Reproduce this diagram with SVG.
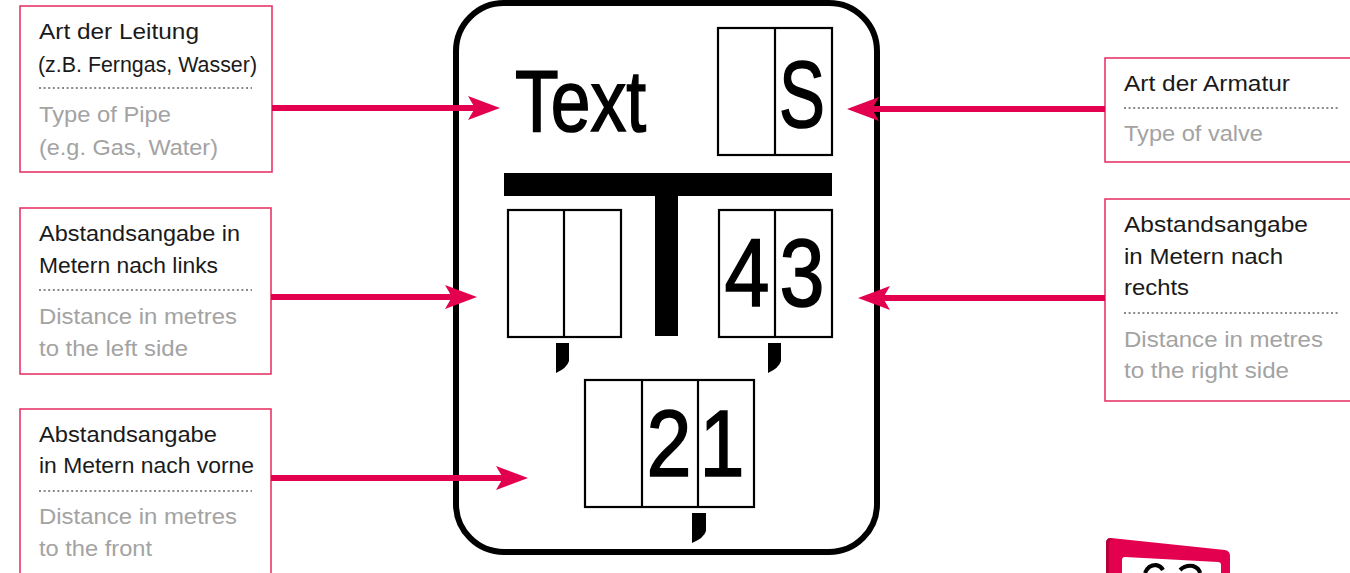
<svg xmlns="http://www.w3.org/2000/svg" width="1350" height="573" viewBox="0 0 1350 573">
<defs>
<style>
.box{fill:#fff;stroke:#e6386a;stroke-width:1.6}
.de{font-family:"Liberation Sans",Arial,sans-serif;font-size:21.5px;fill:#1a1a1a}
.en{font-family:"Liberation Sans",Arial,sans-serif;font-size:21.5px;fill:#a3a3a3}
.dot{stroke:#8a8a8a;stroke-width:2;stroke-dasharray:2 2.6}
.conn{stroke:#e2004f;stroke-width:6;fill:none;marker-end:url(#ah)}
.cell{fill:#fff;stroke:#000;stroke-width:2.2}
.big{font-family:"Liberation Sans Narrow","Liberation Sans",Arial,sans-serif;fill:#000;stroke:#000;stroke-width:1.6}
</style>
<marker id="ah" markerUnits="userSpaceOnUse" viewBox="0 0 32 24" markerWidth="32" markerHeight="24" refX="12" refY="12" orient="auto">
<path d="M0,0 L32,12 L0,24 L7,12 Z" fill="#e2004f"/>
</marker>
</defs>
<rect width="1350" height="573" fill="#fff"/>

<g id="sign">
<rect x="456" y="3" width="421" height="549" rx="48" ry="48" fill="#fff" stroke="#000" stroke-width="6"/>
<text class="big" x="515" y="131" font-size="88" textLength="131" lengthAdjust="spacingAndGlyphs">Text</text>
<rect class="cell" x="718" y="28" width="114" height="127"/>
<line x1="775" y1="28" x2="775" y2="155" stroke="#000" stroke-width="2.2"/>
<text class="big" x="802" y="127" font-size="95" text-anchor="middle" textLength="46" lengthAdjust="spacingAndGlyphs">S</text>
<rect x="504" y="173" width="328" height="23" fill="#000"/>
<rect x="655" y="195" width="23" height="141" fill="#000"/>
<rect class="cell" x="508" y="210" width="113" height="127"/>
<line x1="564" y1="210" x2="564" y2="337" stroke="#000" stroke-width="2.2"/>
<rect class="cell" x="719" y="210" width="113" height="127"/>
<line x1="775" y1="210" x2="775" y2="337" stroke="#000" stroke-width="2.2"/>
<text class="big" x="747" y="306" font-size="96" text-anchor="middle" textLength="45" lengthAdjust="spacingAndGlyphs">4</text>
<text class="big" x="802" y="306" font-size="96" text-anchor="middle" textLength="45" lengthAdjust="spacingAndGlyphs">3</text>
<path d="M556,343 L569,343 L569,361 Q567,368 556,373 Z" fill="#000"/>
<path d="M768,343 L781,343 L781,361 Q779,368 768,373 Z" fill="#000"/>
<rect class="cell" x="585" y="380" width="169" height="127"/>
<line x1="642" y1="380" x2="642" y2="507" stroke="#000" stroke-width="2.2"/>
<line x1="698" y1="380" x2="698" y2="507" stroke="#000" stroke-width="2.2"/>
<text class="big" x="669" y="476" font-size="95" text-anchor="middle" textLength="45" lengthAdjust="spacingAndGlyphs">2</text>
<text class="big" x="722" y="476" font-size="95" text-anchor="middle" textLength="45" lengthAdjust="spacingAndGlyphs">1</text>
<path d="M692,513 L706,513 L706,531 Q704,538 692,543 Z" fill="#000"/>
</g>

<g id="box-pipe">
<rect class="box" x="20" y="6" width="252" height="166"/>
<text class="de" x="39" y="39" textLength="160" lengthAdjust="spacingAndGlyphs">Art der Leitung</text>
<text class="de" x="38" y="72" textLength="219" lengthAdjust="spacingAndGlyphs">(z.B. Ferngas, Wasser)</text>
<line class="dot" x1="39" y1="88" x2="252" y2="88"/>
<text class="en" x="39" y="122" textLength="132" lengthAdjust="spacingAndGlyphs">Type of Pipe</text>
<text class="en" x="39" y="155" textLength="179" lengthAdjust="spacingAndGlyphs">(e.g. Gas, Water)</text>
</g>

<g id="box-left">
<rect class="box" x="20" y="208" width="251" height="166"/>
<text class="de" x="39" y="241" textLength="201" lengthAdjust="spacingAndGlyphs">Abstandsangabe in</text>
<text class="de" x="39" y="273" textLength="179" lengthAdjust="spacingAndGlyphs">Metern nach links</text>
<line class="dot" x1="39" y1="290" x2="252" y2="290"/>
<text class="en" x="39" y="324" textLength="198" lengthAdjust="spacingAndGlyphs">Distance in metres</text>
<text class="en" x="39" y="356" textLength="149" lengthAdjust="spacingAndGlyphs">to the left side</text>
</g>

<g id="box-front">
<rect class="box" x="20" y="409" width="251" height="180"/>
<text class="de" x="39" y="442" textLength="178" lengthAdjust="spacingAndGlyphs">Abstandsangabe</text>
<text class="de" x="39" y="473" textLength="215" lengthAdjust="spacingAndGlyphs">in Metern nach vorne</text>
<line class="dot" x1="39" y1="491" x2="252" y2="491"/>
<text class="en" x="39" y="524" textLength="198" lengthAdjust="spacingAndGlyphs">Distance in metres</text>
<text class="en" x="39" y="556" textLength="113" lengthAdjust="spacingAndGlyphs">to the front</text>
</g>

<g id="box-valve">
<rect class="box" x="1105" y="58" width="260" height="104"/>
<text class="de" x="1124" y="91" textLength="166" lengthAdjust="spacingAndGlyphs">Art der Armatur</text>
<line class="dot" x1="1124" y1="108" x2="1338" y2="108"/>
<text class="en" x="1124" y="141" textLength="139" lengthAdjust="spacingAndGlyphs">Type of valve</text>
</g>

<g id="box-right">
<rect class="box" x="1105" y="199" width="260" height="202"/>
<text class="de" x="1124" y="232" textLength="184" lengthAdjust="spacingAndGlyphs">Abstandsangabe</text>
<text class="de" x="1124" y="264" textLength="159" lengthAdjust="spacingAndGlyphs">in Metern nach</text>
<text class="de" x="1124" y="295" textLength="65" lengthAdjust="spacingAndGlyphs">rechts</text>
<line class="dot" x1="1124" y1="313" x2="1338" y2="313"/>
<text class="en" x="1124" y="347" textLength="199" lengthAdjust="spacingAndGlyphs">Distance in metres</text>
<text class="en" x="1124" y="378" textLength="165" lengthAdjust="spacingAndGlyphs">to the right side</text>
</g>

<g id="icon">
<path d="M1111,538 L1225,550 Q1230,551 1230,556 L1230,573 L1106,573 L1106,543 Q1106,538 1111,538 Z" fill="#e2004f"/>
<path d="M1106,543 Q1106,538 1111,538 L1113,539 Q1109,540 1109,544 L1109,573 L1106,573 Z" fill="#b5003c"/>
<path d="M1125,557 L1218,562 Q1221,562 1221,565 L1221,573 L1122,573 L1122,560 Q1122,557 1125,557 Z" fill="#fff"/>
<path d="M1145,573 Q1148,565 1156,565 Q1161,566 1163,570" fill="none" stroke="#000" stroke-width="4"/>
<path d="M1180,570 Q1185,565 1193,566 Q1199,568 1200,573" fill="none" stroke="#000" stroke-width="4"/>
</g>

<g id="connectors">
<line class="conn" x1="272" y1="108" x2="480" y2="108"/>
<line class="conn" x1="271" y1="297" x2="457" y2="297"/>
<line class="conn" x1="271" y1="478" x2="508" y2="478"/>
<line class="conn" x1="1105" y1="109" x2="867" y2="109"/>
<line class="conn" x1="1105" y1="298" x2="878" y2="298"/>
</g>
</svg>
